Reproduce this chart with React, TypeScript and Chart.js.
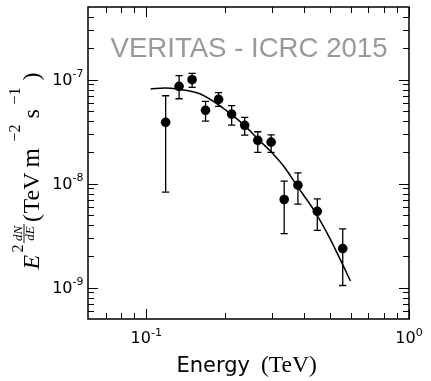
import React, { useEffect, useRef } from "react";
import { Chart, registerables } from "chart.js";

Chart.register(...registerables);

// Measured spectral points (TeV, TeV m^-2 s^-1)
const energies = [0.1185, 0.1333, 0.1494, 0.1681, 0.1885, 0.2113, 0.2369, 0.2657, 0.2987, 0.3349, 0.3778, 0.4477, 0.5594];
const fluxes = [3.89e-8, 8.64e-8, 1.0e-7, 5.07e-8, 6.47e-8, 4.67e-8, 3.64e-8, 2.61e-8, 2.51e-8, 7.05e-9, 9.67e-9, 5.43e-9, 2.38e-9];
const fluxHigh = [7.01e-8, 1.093e-7, 1.15e-7, 6.19e-8, 7.5e-8, 5.62e-8, 4.34e-8, 3.16e-8, 2.95e-8, 1.06e-8, 1.27e-8, 7.14e-9, 3.67e-9];
const fluxLow = [8.28e-9, 6.56e-8, 8.45e-8, 4.0e-8, 5.54e-8, 3.66e-8, 2.93e-8, 2.0e-8, 2.0e-8, 3.31e-9, 6.35e-9, 3.56e-9, 1.05e-9];

// Fitted curve
const fitEnergies = [0.1039, 0.1175, 0.1341, 0.1599, 0.1824, 0.21, 0.2376, 0.2664, 0.296, 0.3379, 0.3755, 0.4397, 0.5021, 0.5627, 0.5985];
const fitFluxes = [8.14e-8, 8.32e-8, 8.05e-8, 7.33e-8, 6.06e-8, 4.67e-8, 3.6e-8, 2.68e-8, 2.07e-8, 1.41e-8, 9.46e-9, 5.31e-9, 2.92e-9, 1.61e-9, 1.16e-9];

// Axes
const xMin = 0.06;
const xMax = 1;
const yMin = 5e-10;
const yMax = 5e-7;
const xMajorTicks = [0.1, 1];
const xMajorLabels = ["-1", "0"];
const yMajorTicks = [1e-9, 1e-8, 1e-7];
const yMajorLabels = ["-9", "-8", "-7"];

const watermark = "VERITAS - ICRC 2015";

const SANS = "'DejaVu Sans', sans-serif";
const SERIF = "'Liberation Serif', 'DejaVu Serif', serif";

function minorTicks(min: number, max: number): number[] {
  const out: number[] = [];
  const lo = Math.floor(Math.log10(min));
  const hi = Math.ceil(Math.log10(max));
  for (let e = lo; e < hi; e++) {
    for (let m = 2; m <= 9; m++) {
      const v = m * Math.pow(10, e);
      if (v > min * 1.0001 && v < max * 0.9999) out.push(v);
    }
  }
  return out;
}

const errorBarPlugin = {
  id: "errorBars",
  afterDatasetsDraw(chart: any) {
    const ctx = chart.ctx;
    const xs = chart.scales.x;
    const ys = chart.scales.y;
    ctx.save();
    ctx.strokeStyle = "#000";
    ctx.lineWidth = 1.3;
    for (let i = 0; i < energies.length; i++) {
      const px = xs.getPixelForValue(energies[i]);
      const pHi = ys.getPixelForValue(fluxHigh[i]);
      const pLo = ys.getPixelForValue(fluxLow[i]);
      ctx.beginPath();
      ctx.moveTo(px, pHi);
      ctx.lineTo(px, pLo);
      ctx.moveTo(px - 3.6, pHi);
      ctx.lineTo(px + 3.6, pHi);
      ctx.moveTo(px - 3.6, pLo);
      ctx.lineTo(px + 3.6, pLo);
      ctx.stroke();
    }
    ctx.restore();
  },
};

const framePlugin = {
  id: "frame",
  afterDraw(chart: any) {
    const ctx = chart.ctx;
    const { left, right, top, bottom } = chart.chartArea;
    const xs = chart.scales.x;
    const ys = chart.scales.y;
    ctx.save();

    // watermark
    ctx.fillStyle = "#999999";
    ctx.font = "27.6px 'Liberation Sans', Arial, sans-serif";
    ctx.textAlign = "center";
    ctx.textBaseline = "alphabetic";
    ctx.fillText(watermark, 249, 56.5);

    // frame
    ctx.strokeStyle = "#000";
    ctx.lineWidth = 1.5;
    ctx.strokeRect(left, top, right - left, bottom - top);

    // ticks
    ctx.lineWidth = 1;
    ctx.beginPath();
    const majorLen = 10;
    const minorLen = 6;
    for (const v of xMajorTicks) {
      const p = Math.round(xs.getPixelForValue(v)) + 0.5;
      ctx.moveTo(p, bottom); ctx.lineTo(p, bottom - majorLen);
      ctx.moveTo(p, top); ctx.lineTo(p, top + majorLen);
    }
    for (const v of minorTicks(xMin, xMax)) {
      const p = Math.round(xs.getPixelForValue(v)) + 0.5;
      ctx.moveTo(p, bottom); ctx.lineTo(p, bottom - minorLen);
      ctx.moveTo(p, top); ctx.lineTo(p, top + minorLen);
    }
    for (const v of yMajorTicks) {
      const p = Math.round(ys.getPixelForValue(v)) + 0.5;
      ctx.moveTo(left, p); ctx.lineTo(left + majorLen, p);
      ctx.moveTo(right, p); ctx.lineTo(right - majorLen, p);
    }
    for (const v of minorTicks(yMin, yMax)) {
      const p = Math.round(ys.getPixelForValue(v)) + 0.5;
      ctx.moveTo(left, p); ctx.lineTo(left + minorLen, p);
      ctx.moveTo(right, p); ctx.lineTo(right - minorLen, p);
    }
    ctx.stroke();

    // tick labels
    ctx.fillStyle = "#000";
    ctx.textAlign = "left";
    const baseFont = "16px " + SANS;
    const supFont = "11px " + SANS;
    xMajorTicks.forEach((v, i) => {
      const p = xs.getPixelForValue(v);
      ctx.font = baseFont;
      const w1 = ctx.measureText("10").width;
      ctx.font = supFont;
      const w2 = ctx.measureText(xMajorLabels[i]).width;
      const x0 = p - (w1 + w2) / 2;
      ctx.font = baseFont;
      ctx.fillText("10", x0, 342.5);
      ctx.font = supFont;
      ctx.fillText(xMajorLabels[i], x0 + w1, 335.5);
    });
    yMajorTicks.forEach((v, i) => {
      const p = ys.getPixelForValue(v);
      ctx.font = supFont;
      const w2 = ctx.measureText(yMajorLabels[i]).width;
      ctx.font = baseFont;
      const w1 = ctx.measureText("10").width;
      const xr = 83.5;
      ctx.fillText("10", xr - w2 - w1, p + 5.5);
      ctx.font = supFont;
      ctx.fillText(yMajorLabels[i], xr - w2, p - 2.5);
    });

    // x title
    ctx.font = "21px " + SANS;
    ctx.fillText("Energy", 176.5, 371.5);
    ctx.font = "23.5px " + SERIF;
    ctx.fillText("(TeV)", 261, 371.5);

    // y title (rotated)
    ctx.save();
    ctx.translate(38.5, 268.5);
    ctx.rotate(-Math.PI / 2);
    ctx.textAlign = "left";
    ctx.font = "italic 24px " + SERIF;
    ctx.fillText("E", -1, 0);
    ctx.font = "16px " + SERIF;
    ctx.fillText("2", 16, -15.5);
    ctx.font = "italic 13px " + SERIF;
    ctx.textAlign = "center";
    ctx.fillText("dN", 35, -17);
    ctx.fillText("dE", 35, -4.5);
    ctx.beginPath();
    ctx.lineWidth = 0.9;
    ctx.moveTo(25.5, -14.5);
    ctx.lineTo(44.5, -14.5);
    ctx.stroke();
    ctx.textAlign = "left";
    ctx.font = "24px " + SERIF;
    ctx.fillText("(", 46.5, 0);
    ctx.fillText("TeV", 55, 0);
    ctx.font = "25px " + SERIF;
    ctx.fillText("m", 101, 0);
    ctx.font = "16px " + SERIF;
    ctx.fillText("\u22122", 127, -19);
    ctx.font = "24px " + SERIF;
    ctx.fillText("s", 150, 0);
    ctx.font = "16px " + SERIF;
    ctx.fillText("\u22121", 164, -19);
    ctx.font = "24px " + SERIF;
    ctx.fillText(")", 188, 0);
    ctx.restore();

    ctx.restore();
  },
};

export default function App() {
  const canvasRef = useRef<HTMLCanvasElement | null>(null);

  useEffect(() => {
    if (!canvasRef.current) return;
    const chart = new Chart(canvasRef.current, {
      type: "scatter",
      data: {
        datasets: [
          {
            label: "data",
            data: energies.map((e, i) => ({ x: e, y: fluxes[i] })),
            backgroundColor: "#000",
            borderWidth: 0,
            pointRadius: 4.8,
            showLine: false,
          },
          {
            label: "fit",
            data: fitEnergies.map((e, i) => ({ x: e, y: fitFluxes[i] })),
            borderColor: "#000",
            borderWidth: 1.5,
            pointRadius: 0,
            showLine: true,
            cubicInterpolationMode: "monotone",
            fill: false,
          } as any,
        ],
      },
      options: {
        animation: false,
        responsive: false,
        devicePixelRatio: 1,
        layout: { padding: { left: 88, right: 22, top: 7, bottom: 62 } },
        plugins: { legend: { display: false }, tooltip: { enabled: false } },
        events: [],
        scales: {
          x: { type: "logarithmic", min: xMin, max: xMax, display: false },
          y: { type: "logarithmic", min: yMin, max: yMax, display: false },
        },
      },
      plugins: [errorBarPlugin, framePlugin],
    });
    return () => chart.destroy();
  }, []);

  return (
    <div style={{ position: "fixed", left: 0, top: 0, width: 431, height: 381, background: "#fff" }}>
      <canvas ref={canvasRef} width={431} height={381} style={{ display: "block" }} />
    </div>
  );
}
